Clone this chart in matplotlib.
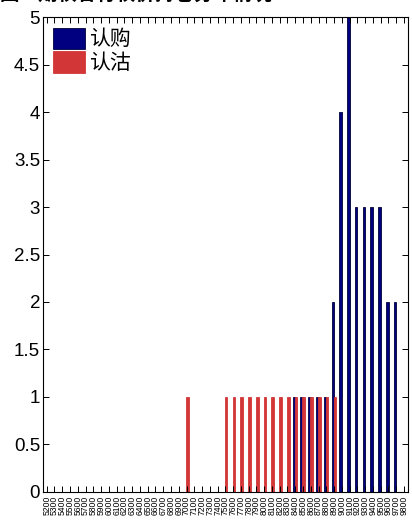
import matplotlib
matplotlib.use("Agg")
import matplotlib.pyplot as plt
import numpy as np

plt.rcParams['font.family'] = ['Liberation Sans', 'Noto Sans CJK SC', 'DejaVu Sans']

# strikes on the x axis
strikes = [5200 + 100 * i for i in range(47)]
# call (认购) and put (认沽) counts per strike
calls = [0] * 32 + [1, 1, 1, 1, 1, 2, 4, 5, 3, 3, 3, 3, 2, 2, 0]
puts = [0] * 18 + [1, 0, 0, 0, 0] + [1] * 15 + [0] * 9

title = "图：期权各行权价持仓分布情况"
series_names = ["认购", "认沽"]

fig = plt.figure(figsize=(4.12, 5.21), dpi=100)
ax = fig.add_axes([0.104, 0.056, 0.886, 0.911])

x = np.arange(1, len(strikes) + 1)
ax.bar(x - 0.16, calls, width=0.34, color="#000080", edgecolor="#00003a", linewidth=0.6, label=series_names[0])
ax.bar(x + 0.10, puts, width=0.34, color="#d33636", edgecolor="#d33636", linewidth=0.6, label=series_names[1])

ax.set_xlim(0.5, len(strikes) + 0.5)
ax.set_ylim(0, 5)
ax.set_yticks(np.arange(0, 5.01, 0.5))
ax.set_yticklabels(["0", "0.5", "1", "1.5", "2", "2.5", "3", "3.5", "4", "4.5", "5"], fontsize=13.5)
ax.set_xticks(x)
ax.set_xticklabels([str(s) for s in strikes], rotation=90, fontsize=6.2, va="top")
ax.tick_params(direction="in", top=True, right=True, length=4, width=0.7)
ax.tick_params(axis="x", pad=3)
ax.tick_params(axis="y", pad=2)
for s in ax.spines.values():
    s.set_linewidth(0.8)

leg = ax.legend(loc="upper left", frameon=False, prop={"family": ["Noto Sans CJK SC"], "size": 15},
                handlelength=1.5, handleheight=1.2, handletextpad=0.2, borderaxespad=0.1, labelspacing=0.05)

fig.text(0.0, 1.012, title, fontsize=14, fontweight="bold", family=["Noto Sans CJK SC"], va="center", ha="left")

fig.savefig("out.png", dpi=100, facecolor="white")
